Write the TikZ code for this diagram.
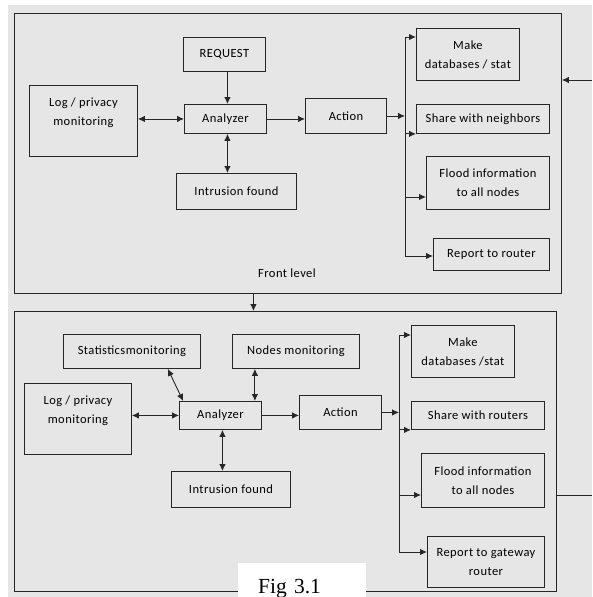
\documentclass[tikz,border=0pt]{standalone}
\usepackage{fontspec}
\setmainfont{Carlito}[LetterSpace=3.5]
\newfontfamily\figfont{Liberation Serif}
\usepackage{tikz}
\usetikzlibrary{calc}
\usetikzlibrary{arrows.meta}
\definecolor{panel}{HTML}{E6E6E6}
\tikzset{
  box/.style={draw=black!85, line width=0.9pt, fill=panel, anchor=north west, inner sep=2pt, align=center, font=\fontsize{12.5}{19}\selectfont},
  frame/.style={draw=black!85, line width=0.9pt, fill=panel, anchor=north west, inner sep=0pt},
  arr/.style={-{Latex[length=7pt,width=6.5pt]}, line width=0.9pt, black!85},
  darr/.style={{Latex[length=7pt,width=6.5pt]}-{Latex[length=7pt,width=6.5pt]}, line width=0.9pt, black!85},
  bus/.style={line width=0.9pt, black!85}
}

\begin{document}
\begin{tikzpicture}[x=1pt, y=-1pt]
\useasboundingbox (0,0) rectangle (592,597);
\fill [panel] (8,5) rectangle (592,597);

\node [frame, minimum width=547pt, minimum height=280pt] (top) at (14,13) {};
\node [frame, minimum width=542pt, minimum height=280pt] (bot) at (14,311) {};

% front level
\node [box, minimum width=82pt, minimum height=34pt] (req) at (183,37) {REQUEST};
\node [box, minimum width=108pt, minimum height=71pt] (log) at (29,85) {Log / privacy\\monitoring\\ \mbox{}};
\node [box, minimum width=82pt, minimum height=29pt] (ana) at (184,104) {Analyzer};
\node [box, minimum width=120pt, minimum height=36pt] (intr) at (176,173) {Intrusion found};
\node [font=\fontsize{12.5}{19}\selectfont] (lvl) at (287,273) {Front level};
\node [box, minimum width=81pt, minimum height=35pt] (act) at (305,98) {Action};
\node [box, minimum width=103pt, minimum height=52pt] (mk) at (416,28) {Make\\databases / stat};
\node [box, minimum width=133pt, minimum height=29pt] (share) at (416,104) {Share with neighbors};
\node [box, minimum width=123pt, minimum height=53pt] (flood) at (426,156) {Flood information\\to all nodes};
\node [box, minimum width=116pt, minimum height=32pt] (rep) at (433,238) {Report to router};

\draw [arr] ([xshift=3pt]req.south) -- ([xshift=3pt]req.south |- ana.north);
\draw [darr] (log.east |- ana.west) -- (ana.west);
\draw [darr] ([xshift=2pt]ana.south) -- ([xshift=2pt]ana.south |- intr.north);
\draw [arr] (ana.east) -- (ana.east -| act.west);
\coordinate (busA) at (405,37);
\coordinate (busB) at (405,256);
\coordinate (flA) at (405,197);
\draw [bus] (busA) -- (busB);
\draw [arr] (act.east) -- (act.east -| busA);
\draw [arr] (busA) -- (busA -| mk.west);
\draw [arr] (busA |- share.south) -- (share.south west);
\draw [arr] (flA) -- (flA -| flood.west);
\draw [arr] (busB) -- (busB -| rep.west);

\draw [arr] ([xshift=-34.5pt]top.south) -- ([xshift=-34.5pt]top.south |- bot.north);
\coordinate (inR) at (592,80);
\draw [arr] (inR) -- (inR -| top.east);

% second level
\node [box, minimum width=137pt, minimum height=34pt] (stats) at (63,334) {Statisticsmonitoring};
\node [box, minimum width=127pt, minimum height=34pt] (nod) at (232,334) {Nodes monitoring};
\node [box, minimum width=107pt, minimum height=71pt] (log2) at (24,383) {Log / privacy\\monitoring\\ \mbox{}};
\node [box, minimum width=82pt, minimum height=28pt] (ana2) at (179,401) {Analyzer};
\node [box, minimum width=119pt, minimum height=36pt] (intr2) at (171,471) {Intrusion found};
\node [box, minimum width=82pt, minimum height=34pt] (act2) at (299,395) {Action};
\node [box, minimum width=103pt, minimum height=52pt] (mk2) at (411,325) {Make\\databases /stat};
\node [box, minimum width=133pt, minimum height=28pt] (share2) at (411,401) {Share with routers};
\node [box, minimum width=123pt, minimum height=54pt] (flood2) at (421,453) {Flood information\\to all nodes};
\node [box, minimum width=117pt, minimum height=51pt] (rep2) at (427,536) {Report to gateway\\router};

\draw [darr] ($(stats.south west)!.76!(stats.south east)$) -- ($(ana2.north west)!.05!(ana2.north east)$);
\draw [darr] ([xshift=-7pt]ana2.north east) -- ([xshift=-7pt]ana2.north east |- nod.south);
\draw [darr] (log2.east |- ana2.west) -- (ana2.west);
\draw [darr] ([xshift=2pt]ana2.south) -- ([xshift=2pt]ana2.south |- intr2.north);
\draw [arr] (ana2.east) -- (ana2.east -| act2.west);
\coordinate (busC) at (399,335);
\coordinate (busD) at (399,552);
\coordinate (flB) at (399,495);
\draw [bus] (busC) -- (busD);
\draw [arr] (act2.east) -- (act2.east -| busC);
\draw [arr] (busC) -- (busC -| mk2.west);
\draw [arr] (busC |- share2.south) -- (share2.south west);
\draw [arr] (flB) -- (flB -| flood2.west);
\draw [arr] (busD) -- (busD -| rep2.west);

\coordinate (outR) at (592,495);
\draw [bus] (outR -| bot.east) -- (outR);

\node [fill=white, anchor=north west, minimum width=128pt, minimum height=46pt, text width=88pt, inner xsep=20pt, inner ysep=0pt, text height=15pt, text depth=0pt, align=left, font=\figfont\fontsize{21.5}{24}\selectfont] (fig) at (238,563) {Fig 3.1};
\end{tikzpicture}
\end{document}
